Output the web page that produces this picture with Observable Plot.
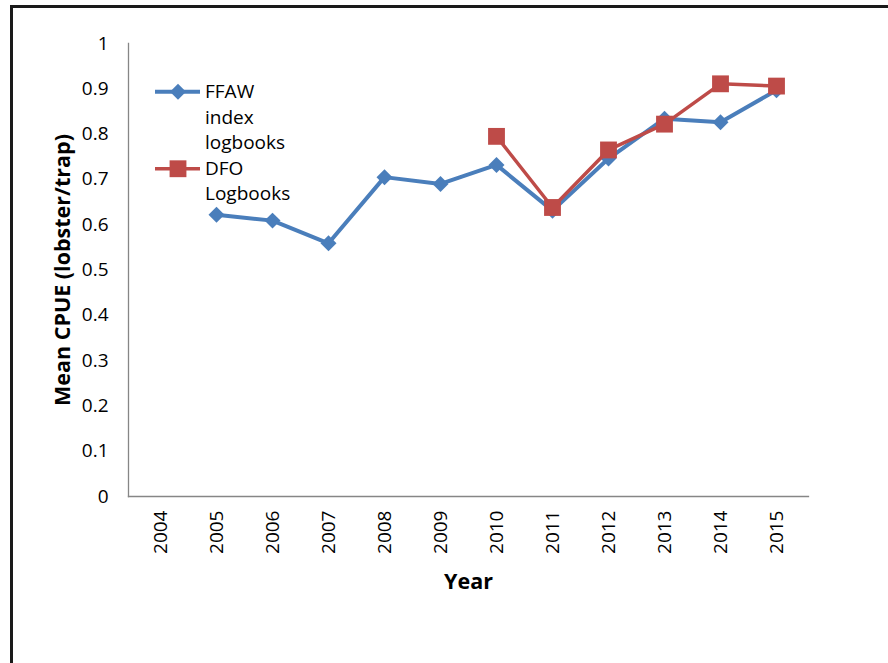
<!DOCTYPE html>
<html>
<head>
<meta charset="utf-8">
<script src="https://cdn.jsdelivr.net/npm/d3@7"></script>
<script src="https://cdn.jsdelivr.net/npm/@observablehq/plot@0.6"></script>
<style>
  html, body { margin: 0; padding: 0; background: #fff; }
  #wrap { position: relative; width: 888px; height: 663px; overflow: hidden; background: #fff; font-family: "Open Sans", sans-serif; }
  #frame { position: absolute; left: 10px; top: 5px; width: 920px; height: 720px; border: 3px solid #1a1a1a; box-sizing: border-box; }
  #chart { position: absolute; left: 0; top: 0; }
  #chart g[aria-label="y-axis label"] text,
  #chart g[aria-label="x-axis label"] text { font-weight: bold; font-size: 21.5px; }
  #legend { position: absolute; left: 153px; top: 79px; font-size: 19px; line-height: 25.5px; color: #000; }
  .item { display: flex; align-items: flex-start; }
  .item svg { flex: none; margin-top: 0; }
  .item span { width: 90px; display: block; }
</style>
</head>
<body>
<div id="wrap">
  <div id="frame"></div>
  <div id="chart"></div>
  <div id="legend"></div>
</div>
<script>
// Mean lobster catch per trap by year, two logbook programs
const years = ["2004", "2005", "2006", "2007", "2008", "2009", "2010", "2011", "2012", "2013", "2014", "2015"];

const ffawYears = ["2005", "2006", "2007", "2008", "2009", "2010", "2011", "2012", "2013", "2014", "2015"];
const ffawValues = [0.622, 0.609, 0.559, 0.705, 0.690, 0.732, 0.631, 0.746, 0.834, 0.826, 0.897];

const dfoYears = ["2010", "2011", "2012", "2013", "2014", "2015"];
const dfoValues = [0.795, 0.638, 0.765, 0.822, 0.911, 0.906];

const yTicks = [0, 0.1, 0.2, 0.3, 0.4, 0.5, 0.6, 0.7, 0.8, 0.9, 1];

const seriesNames = ["FFAW index logbooks", "DFO Logbooks"];
const seriesColors = ["#4a7ebb", "#be4b48"];
const seriesSymbols = ["diamond2", "square"];

const ffaw = ffawYears.map((year, i) => ({year, value: ffawValues[i]}));
const dfo = dfoYears.map((year, i) => ({year, value: dfoValues[i]}));

const chart = Plot.plot({
  width: 888,
  height: 663,
  marginLeft: 128,
  marginRight: 80,
  marginTop: 43,
  marginBottom: 167,
  style: {fontFamily: "Open Sans, sans-serif", fontSize: "19px", color: "#000", background: "transparent"},
  x: {type: "point", domain: years, padding: 0.5},
  y: {domain: [0, 1]},
  marks: [
    Plot.frame({anchor: "left", stroke: "#868686", strokeWidth: 1.3}),
    Plot.frame({anchor: "bottom", stroke: "#868686", strokeWidth: 1.3}),
    Plot.axisY({
      ticks: yTicks, tickSize: 0, tickPadding: 20, tickFormat: d => String(d),
      label: "Mean CPUE (lobster/trap)", labelAnchor: "center", labelArrow: "none", labelOffset: 74
    }),
    Plot.axisX({
      tickSize: 0, tickRotate: -90, tickPadding: 14,
      label: "Year", labelAnchor: "center", labelArrow: "none", labelOffset: 92
    }),
    Plot.line(ffaw, {x: "year", y: "value", stroke: seriesColors[0], strokeWidth: 4}),
    Plot.dot(ffaw, {x: "year", y: "value", symbol: seriesSymbols[0], r: 7.2, fill: seriesColors[0], stroke: "none"}),
    Plot.line(dfo, {x: "year", y: "value", stroke: seriesColors[1], strokeWidth: 3.5}),
    Plot.dot(dfo, {x: "year", y: "value", symbol: seriesSymbols[1], r: 9.5, fill: seriesColors[1], stroke: "none"})
  ]
});
document.getElementById("chart").appendChild(chart);

// Legend: line-and-marker swatch beside each wrapped series name
const legend = d3.select("#legend");
seriesNames.forEach((name, i) => {
  const item = legend.append("div").attr("class", "item");
  const sw = item.append("svg").attr("width", 52).attr("height", 25.5);
  sw.append("line")
    .attr("x1", 2).attr("x2", 47).attr("y1", 12.75).attr("y2", 12.75)
    .attr("stroke", seriesColors[i]).attr("stroke-width", i === 0 ? 4 : 3.5);
  const sym = i === 0 ? d3.symbolDiamond2 : d3.symbolSquare;
  const size = i === 0 ? 7.2 * 7.2 * Math.PI : 9.5 * 9.5 * Math.PI;
  sw.append("path")
    .attr("d", d3.symbol(sym, size)())
    .attr("transform", "translate(25,12.75)")
    .attr("fill", seriesColors[i]);
  item.append("span").text(name);
});
</script>
</body>
</html>
